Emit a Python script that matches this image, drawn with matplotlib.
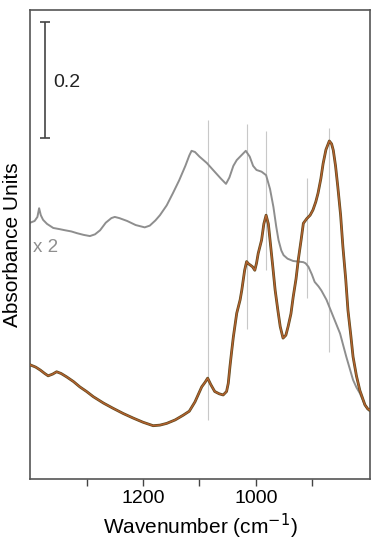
import matplotlib
matplotlib.use("Agg")
import matplotlib.pyplot as plt
import numpy as np

plt.rcParams["font.family"] = ["Liberation Sans", "DejaVu Sans"]

# gray spectrum (shown x 2), wavenumber / absorbance
gray_wn = [1400, 1392, 1387, 1384, 1381, 1377, 1370, 1359, 1348, 1338, 1327, 1317,
           1305, 1294, 1285, 1276, 1266, 1256, 1250, 1242, 1228, 1213, 1197, 1188,
           1178, 1170, 1158, 1147, 1136, 1125, 1118, 1114, 1108, 1100, 1087, 1075,
           1062, 1053, 1047, 1040, 1034, 1024, 1018, 1011, 1005, 999, 990, 982,
           975, 969, 964, 960, 955, 951, 944, 934, 925, 916, 912, 907, 901, 896,
           889, 884, 875, 863, 851, 840, 828, 822, 816, 807, 800, 798]
gray_ab = [0.442, 0.445, 0.452, 0.467, 0.455, 0.447, 0.440, 0.433, 0.431, 0.429, 0.427, 0.424,
           0.421, 0.419, 0.422, 0.429, 0.442, 0.450, 0.452, 0.450, 0.445, 0.438, 0.434, 0.437,
           0.446, 0.455, 0.472, 0.493, 0.515, 0.540, 0.558, 0.566, 0.564, 0.556, 0.545, 0.532,
           0.518, 0.509, 0.520, 0.540, 0.550, 0.560, 0.566, 0.556, 0.540, 0.533, 0.530, 0.524,
           0.500, 0.469, 0.435, 0.412, 0.394, 0.386, 0.380, 0.376, 0.375, 0.374, 0.372, 0.366,
           0.353, 0.340, 0.332, 0.325, 0.309, 0.280, 0.251, 0.211, 0.171, 0.158, 0.148, 0.128,
           0.118, 0.117]

# brown spectrum
brown_wn = [1400, 1390, 1382, 1374, 1368, 1360, 1353, 1345, 1335, 1323, 1312, 1300,
            1288, 1270, 1253, 1235, 1217, 1200, 1182, 1170, 1158, 1143, 1129, 1118,
            1108, 1096, 1090, 1085.5, 1080, 1073, 1065, 1058, 1052, 1049, 1046, 1043,
            1040, 1034, 1028, 1025, 1020, 1016.5, 1013, 1010, 1006, 1002, 999, 996,
            990, 986, 982, 978, 975, 970, 966, 961, 957, 952, 947, 943, 938, 934,
            929, 925, 920, 916, 910, 904, 899, 894, 890, 885, 881, 876, 870, 866,
            863, 859, 855, 850, 846, 841, 837, 832, 828, 822, 816, 807, 802, 798]
brown_ab = [0.197, 0.193, 0.188, 0.182, 0.178, 0.181, 0.185, 0.182, 0.176, 0.168, 0.159, 0.151,
            0.142, 0.131, 0.122, 0.113, 0.105, 0.098, 0.092, 0.093, 0.096, 0.102, 0.110, 0.117,
            0.133, 0.159, 0.167, 0.174, 0.163, 0.151, 0.147, 0.145, 0.151, 0.165, 0.194, 0.220,
            0.245, 0.286, 0.309, 0.326, 0.360, 0.375, 0.371, 0.369, 0.366, 0.360, 0.372, 0.389,
            0.412, 0.440, 0.455, 0.440, 0.412, 0.365, 0.326, 0.290, 0.263, 0.243, 0.248, 0.263,
            0.285, 0.314, 0.345, 0.378, 0.412, 0.441, 0.449, 0.455, 0.464, 0.478, 0.493, 0.518,
            0.544, 0.568, 0.583, 0.578, 0.567, 0.540, 0.504, 0.455, 0.401, 0.345, 0.291, 0.248,
            0.211, 0.178, 0.153, 0.128, 0.121, 0.119]

# marker lines: position, bottom, top
mark_wn = [1085.5, 1016.5, 982, 910, 871]
mark_lo = [0.102, 0.259, 0.360, 0.312, 0.219]
mark_hi = [0.619, 0.612, 0.600, 0.519, 0.605]

xticks = [1300, 1200, 1100, 1000, 900]
xticklabels = ["", "1200", "", "1000", ""]

fig = plt.figure(figsize=(3.76, 5.5), dpi=100)
ax = fig.add_axes([0.080, 0.129, 0.904, 0.853])

ax.vlines(mark_wn, mark_lo, mark_hi, color="#c8c8c8", lw=0.8, zorder=1)
ax.plot(gray_wn, gray_ab, color="#8e8e8e", lw=1.4, zorder=2, solid_joinstyle="round")
ax.plot(brown_wn, brown_ab, color="#5e4a1e", lw=2.0, zorder=3, solid_joinstyle="round")
ax.plot(brown_wn, brown_ab, color="#b5612f", lw=1.0, zorder=4, solid_joinstyle="round")

# scale bar
ax.errorbar([1373.5], [0.688], yerr=[0.1], color="#444444", lw=1.2, capsize=3.5,
            capthick=1.2, fmt="none")
ax.text(1359, 0.684, "0.2", fontsize=14, va="center", ha="left", color="#222222")
ax.text(1395, 0.400, "x 2", fontsize=13.5, va="center", ha="left", color="#8e8e8e")

ax.set_xlim(1400, 798)
ax.set_ylim(0, 0.809)
ax.set_xticks(xticks)
ax.set_xticklabels(xticklabels, fontsize=14)
ax.set_yticks([])
ax.tick_params(axis="x", direction="out", length=5, width=1, color="#444444", pad=3)
for s in ax.spines.values():
    s.set_color("#555555")
    s.set_linewidth(1.2)

ax.set_xlabel("Wavenumber (cm$^{-1}$)", fontsize=15, labelpad=3)
ax.set_ylabel("Absorbance Units", fontsize=15, labelpad=6)

fig.savefig("out.png", dpi=100)
